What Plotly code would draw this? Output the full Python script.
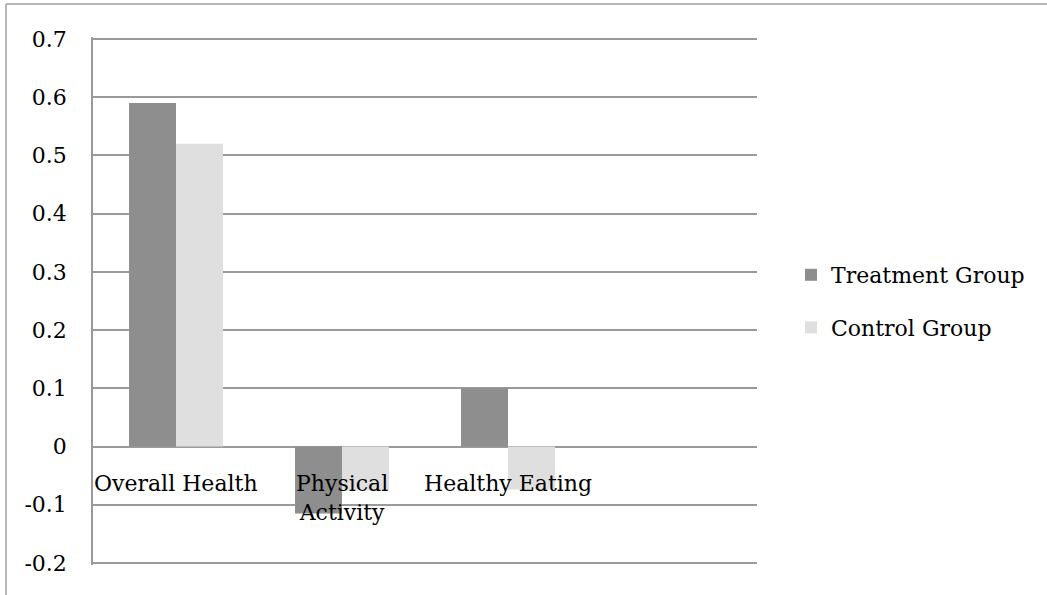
import plotly.graph_objects as go

categories = ["Overall Health", "Physical Activity", "Healthy Eating"]
category_labels = ["Overall Health", "Physical<br>Activity", "Healthy Eating"]
treatment = [0.59, -0.115, 0.10]
control = [0.52, -0.075, -0.074]
tick_vals = [0.7, 0.6, 0.5, 0.4, 0.3, 0.2, 0.1, 0, -0.1, -0.2]
tick_text = ["0.7", "0.6", "0.5", "0.4", "0.3", "0.2", "0.1", "0", "-0.1", "-0.2"]

FONT = "DejaVu Serif"
W, H = 1047, 595
L, R, T, B = 93, 290, 37, 30
pw, ph = W - L - R, H - T - B
PAD = 0.0035

fig = go.Figure()
fig.add_trace(go.Bar(x=categories, y=treatment, name="Treatment Group",
                     marker=dict(color="#8e8e8e", line=dict(width=0)),
                     legendgroup="a"))
fig.add_trace(go.Bar(x=categories, y=control, name="Control Group",
                     marker=dict(color="#dfdfdf", line=dict(width=0)),
                     legendgroup="b"))

for c, lab in zip(categories, category_labels):
    fig.add_annotation(x=c, y=0, xref="x", yref="y", text=lab, showarrow=False,
                       yanchor="top", xanchor="center", yshift=-22,
                       font=dict(family=FONT, size=22, color="#000"))

def px_x(p):
    return (p - L) / pw

def px_y(p):
    return (H - B - p) / ph

# outer chart border (top and left)
fig.add_shape(type="line", xref="paper", yref="paper",
              x0=px_x(6), x1=px_x(1060), y0=px_y(4), y1=px_y(4),
              line=dict(color="#a0a0a0", width=1.5))
fig.add_shape(type="line", xref="paper", yref="paper",
              x0=px_x(6), x1=px_x(6), y0=px_y(4), y1=px_y(610),
              line=dict(color="#a0a0a0", width=1.5))

fig.update_layout(
    width=W, height=H,
    margin=dict(l=L, r=R, t=T, b=B),
    paper_bgcolor="white", plot_bgcolor="white",
    barmode="group", bargap=0.434, bargroupgap=0,
    font=dict(family=FONT, size=22, color="#000"),
    showlegend=True,
    legend=dict(x=px_x(791), y=px_y(254), xanchor="left", yanchor="top",
                tracegroupgap=21, font=dict(family=FONT, size=22, color="#000"),
                bgcolor="rgba(0,0,0,0)"),
    xaxis=dict(type="category", range=[-0.5, 3.5], showticklabels=False,
               showgrid=False, zeroline=False, showline=False, ticks=""),
    yaxis=dict(range=[tick_vals[-1] - PAD, tick_vals[0] + PAD],
               tickvals=tick_vals, ticktext=tick_text,
               showgrid=True, gridcolor="#9a9a9a", gridwidth=1.5,
               zeroline=True, zerolinecolor="#9a9a9a", zerolinewidth=1.5,
               showline=True, linecolor="#9a9a9a", linewidth=1.5,
               ticks="", ticklabelstandoff=20,
               tickfont=dict(family=FONT, size=22, color="#000")),
)

fig.write_html("out.html")
